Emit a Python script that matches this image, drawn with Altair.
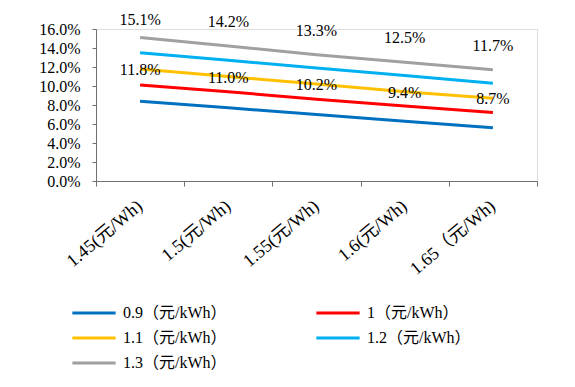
import altair as alt
import pandas as pd

categories = ["1.45(元/Wh)", "1.5(元/Wh)", "1.55(元/Wh)", "1.6(元/Wh)", "1.65（元/Wh)"]
series_names = ["0.9（元/kWh）", "1（元/kWh）", "1.1（元/kWh）", "1.2（元/kWh）", "1.3（元/kWh）"]
s09 = [0.084, 0.077, 0.070, 0.063, 0.056]
s10 = [0.101, 0.094, 0.086, 0.079, 0.072]
s11 = [0.118, 0.110, 0.102, 0.094, 0.087]
s12 = [0.135, 0.127, 0.119, 0.111, 0.103]
s13 = [0.151, 0.142, 0.133, 0.125, 0.117]
colors = ["#0070C0", "#FF0000", "#FFC000", "#00B0F0", "#A0A0A0"]

rows = []
for name, vals in zip(series_names, [s09, s10, s11, s12, s13]):
    for c, v in zip(categories, vals):
        rows.append({"cat": c, "series": name, "value": v})
df = pd.DataFrame(rows)

FONT = "'Liberation Serif', 'Times New Roman', 'Noto Sans CJK SC'"
FS = 16

x = alt.X("cat:N", sort=categories, title=None,
          scale=alt.Scale(paddingInner=0, paddingOuter=0),
          axis=alt.Axis(labelAngle=-40, labelFont=FONT, labelFontSize=18,
                        labelColor="#000", domainColor="#707070", tickColor="#707070",
                        tickBand="extent", tickSize=5, labelPadding=11, labelOffset=-6,
                        labelOverlap=False, labelLimit=300))
y = alt.Y("value:Q", title=None,
          scale=alt.Scale(domain=[0, 0.16], nice=False),
          axis=alt.Axis(format=".1%", values=[i / 100 for i in range(0, 17, 2)],
                        labelFont=FONT, labelFontSize=FS, labelColor="#000",
                        domainColor="#707070", tickColor="#707070", tickSize=4,
                        grid=False, labelPadding=12, labelOverlap=False))

lines = alt.Chart(df).mark_line(strokeWidth=3).encode(
    x=x, y=y,
    color=alt.Color("series:N", sort=series_names,
                    scale=alt.Scale(domain=series_names, range=colors),
                    legend=alt.Legend(title=None, orient="none", legendX=-10, legendY=276,
                                      direction="horizontal",
                                      columns=2, symbolType="M-4,0H4", symbolSize=117,
                                      symbolStrokeWidth=3, labelFont=FONT, labelFontSize=FS,
                                      labelColor="#000", columnPadding=83, rowPadding=9,
                                      labelOffset=21, padding=0, labelLimit=300)),
)

base_top = alt.Chart(df).transform_filter(alt.datum.series == series_names[4])
top_first = base_top.transform_filter(alt.datum.cat == categories[0]).mark_text(
    dy=-18, font=FONT, fontSize=FS, color="#000"
).encode(x=x, y=y, text=alt.Text("value:Q", format=".1%"))
top_rest = base_top.transform_filter(alt.datum.cat != categories[0]).mark_text(
    dy=-24, font=FONT, fontSize=FS, color="#000"
).encode(x=x, y=y, text=alt.Text("value:Q", format=".1%"))

mid_labels = alt.Chart(df).transform_filter(alt.datum.series == series_names[2]).mark_text(
    dy=1, font=FONT, fontSize=FS, color="#000"
).encode(x=x, y=y, text=alt.Text("value:Q", format=".1%"))

chart = alt.layer(lines, top_first, top_rest, mid_labels).properties(
    width=441, height=152,
    autosize=alt.AutoSizeParams(type="none"),
    padding={"left": 88, "top": 21, "right": 30, "bottom": 190},
).configure_view(stroke=None).configure(background="white")

chart.save("out.html", embed_options={"renderer": "svg", "actions": False})
